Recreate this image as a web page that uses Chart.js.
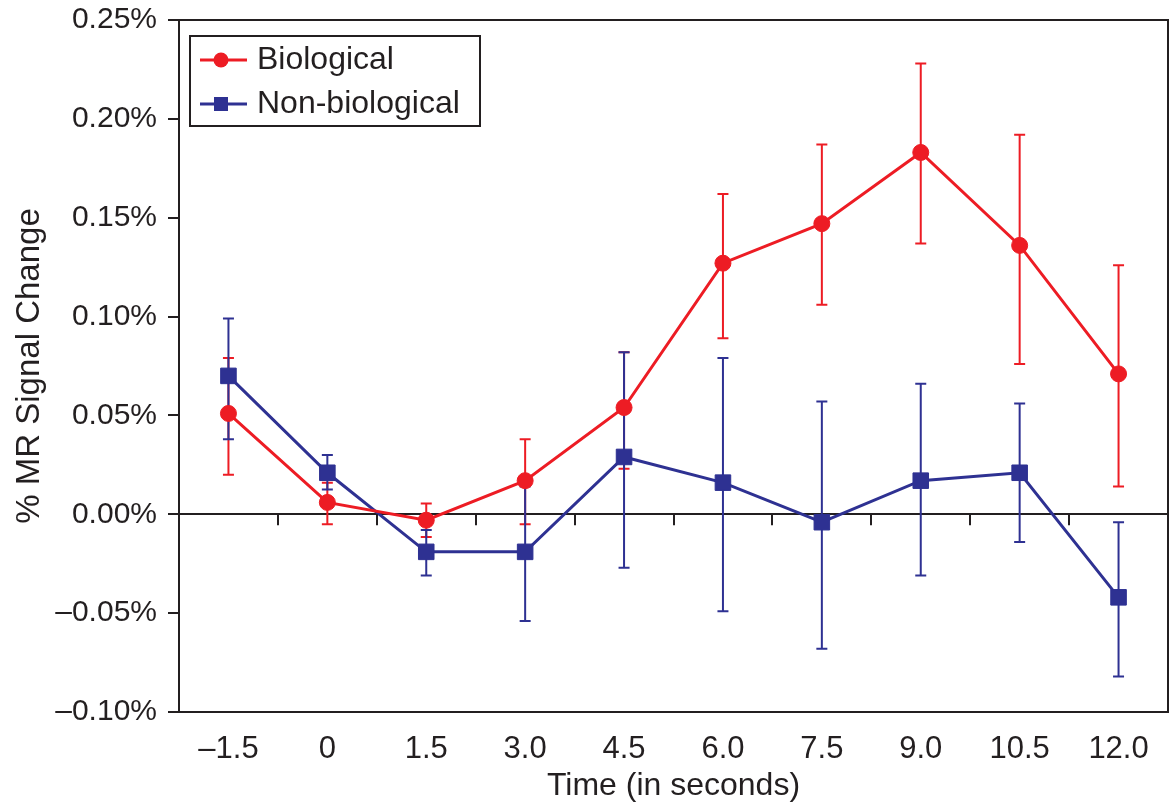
<!DOCTYPE html>
<html>
<head>
<meta charset="utf-8">
<script src="https://cdn.jsdelivr.net/npm/chart.js@4/dist/chart.umd.min.js"></script>
<style>html,body{margin:0;padding:0;background:#fff}canvas{display:block}</style>
</head>
<body>
<canvas id="c" width="1169" height="808"></canvas>
<script>
// ---- data ----
const timeLabels = ['\u20131.5', '0', '1.5', '3.0', '4.5', '6.0', '7.5', '9.0', '10.5', '12.0'];

const bioValues = [0.051, 0.006, -0.003, 0.017, 0.054, 0.127, 0.147, 0.183, 0.136, 0.071];
const bioUpper  = [0.079, 0.016, 0.0055, 0.038, 0.082, 0.162, 0.187, 0.228, 0.192, 0.126];
const bioLower  = [0.020, -0.005, -0.0115, -0.005, 0.023, 0.089, 0.106, 0.137, 0.076, 0.014];

const nonValues = [0.070, 0.021, -0.019, -0.019, 0.029, 0.016, -0.004, 0.017, 0.021, -0.042];
const nonUpper  = [0.099, 0.030, -0.008, 0.014, 0.082, 0.079, 0.057, 0.066, 0.056, -0.004];
const nonLower  = [0.038, 0.0125, -0.031, -0.054, -0.027, -0.049, -0.068, -0.031, -0.014, -0.082];

const seriesNames = ['Biological', 'Non-biological'];
const yMin = -0.10, yMax = 0.25, yStep = 0.05;

// ---- styles ----
const INK = '#231f20';
const RED = '#ed1c24';
const BLUE = '#2e3192';
const FONT = "'Liberation Sans', Arial, Helvetica, sans-serif";

const errorBars = {
  id: 'errorBars',
  beforeDatasetsDraw(chart) {
    const ctx = chart.ctx, xs = chart.scales.x, ys = chart.scales.y;
    chart.data.datasets.forEach((ds, di) => {
      if (!chart.isDatasetVisible(di)) return;
      ctx.save();
      ctx.strokeStyle = ds.borderColor;
      ctx.lineWidth = 2;
      ds.errUpper.forEach((hi, i) => {
        const x = xs.getPixelForValue(i);
        const y1 = ys.getPixelForValue(hi);
        const y2 = ys.getPixelForValue(ds.errLower[i]);
        const cap = 5.5;
        ctx.beginPath();
        ctx.moveTo(x, y1); ctx.lineTo(x, y2);
        ctx.moveTo(x - cap, y1); ctx.lineTo(x + cap, y1);
        ctx.moveTo(x - cap, y2); ctx.lineTo(x + cap, y2);
        ctx.stroke();
      });
      ctx.restore();
    });
  }
};

const frame = {
  id: 'frame',
  afterDraw(chart) {
    const ctx = chart.ctx, a = chart.chartArea, xs = chart.scales.x, ys = chart.scales.y;
    ctx.save();
    ctx.strokeStyle = INK;
    ctx.lineWidth = 2;
    ctx.beginPath();
    ctx.moveTo(a.left, a.top); ctx.lineTo(a.right, a.top); ctx.lineTo(a.right, a.bottom);
    ctx.stroke();
    // tick marks on the zero line between categories
    const y0 = ys.getPixelForValue(0);
    ctx.beginPath();
    for (let i = 0; i < timeLabels.length - 1; i++) {
      const x = Math.round((xs.getPixelForValue(i) + xs.getPixelForValue(i + 1)) / 2);
      ctx.moveTo(x, y0); ctx.lineTo(x, y0 + 11);
    }
    ctx.stroke();

    // legend box
    const bx = 190, by = 36, bw = 290, bh = 90;
    ctx.strokeRect(bx, by, bw, bh);
    const rows = [60, 104];
    chart.data.datasets.forEach((ds, di) => {
      const cy = rows[di];
      ctx.strokeStyle = ds.borderColor;
      ctx.fillStyle = ds.borderColor;
      ctx.lineWidth = 3;
      ctx.beginPath();
      ctx.moveTo(200, cy); ctx.lineTo(247, cy);
      ctx.stroke();
      if (ds.pointStyle === 'rect') {
        ctx.fillRect(221 - 7, cy - 7, 14, 14);
      } else {
        ctx.beginPath();
        ctx.arc(221, cy, 7.5, 0, Math.PI * 2);
        ctx.fill();
      }
      ctx.fillStyle = INK;
      ctx.font = "32px " + FONT;
      ctx.textAlign = 'left';
      ctx.textBaseline = 'alphabetic';
      ctx.fillText(ds.label, 257, cy + 9);
    });
    ctx.restore();
  }
};

const fmtPct = v => {
  if (Math.abs(v) < 1e-9) return '0.00%';
  const s = Math.abs(v).toFixed(2) + '%';
  return v < 0 ? '\u2013' + s : s;
};

const noPad = s => { s.paddingLeft = 0; s.paddingRight = 0; s.paddingTop = 0; s.paddingBottom = 0; };

new Chart(document.getElementById('c'), {
  type: 'line',
  data: {
    labels: timeLabels,
    datasets: [
      {
        label: seriesNames[0],
        data: bioValues,
        errUpper: bioUpper,
        errLower: bioLower,
        borderColor: RED,
        backgroundColor: RED,
        borderWidth: 3,
        pointStyle: 'circle',
        pointRadius: 8,
        pointBorderWidth: 1,
        pointBackgroundColor: RED,
        tension: 0,
        order: 1
      },
      {
        label: seriesNames[1],
        data: nonValues,
        errUpper: nonUpper,
        errLower: nonLower,
        borderColor: BLUE,
        backgroundColor: BLUE,
        borderWidth: 3,
        pointStyle: 'rect',
        pointRadius: 11,
        pointBorderWidth: 1,
        pointBackgroundColor: BLUE,
        tension: 0,
        order: 2
      }
    ]
  },
  options: {
    responsive: false,
    animation: false,
    devicePixelRatio: 1,
    layout: { autoPadding: false, padding: { left: 0, right: 1, top: 20, bottom: 0 } },
    plugins: { legend: { display: false }, tooltip: { enabled: false } },
    scales: {
      x: {
        type: 'category',
        offset: true,
        grid: { display: false, drawTicks: false },
        border: { display: true, color: INK, width: 2 },
        ticks: { color: INK, font: { family: FONT, size: 31 }, padding: 19, maxRotation: 0, autoSkip: false },
        title: { display: true, text: 'Time (in seconds)', color: INK, font: { family: FONT, size: 32, lineHeight: 1 }, padding: { top: 0, bottom: 6 } },
        afterFit(s) { s.height = 96; noPad(s); }
      },
      y: {
        min: yMin,
        max: yMax,
        ticks: { stepSize: yStep, callback: v => fmtPct(v), color: INK, font: { family: FONT, size: 30 }, padding: 11 },
        grid: {
          color: c => (c.tick && Math.abs(c.tick.value) < 1e-9) ? INK : 'rgba(0,0,0,0)',
          tickColor: INK,
          lineWidth: 2,
          tickLength: 11,
          drawTicks: true
        },
        border: { display: true, color: INK, width: 2 },
        title: { display: true, text: '% MR Signal Change', color: INK, font: { family: FONT, size: 33, lineHeight: 1 }, padding: { top: 13, bottom: 0 } },
        afterFit(s) { s.width = 179; noPad(s); }
      }
    }
  },
  plugins: [errorBars, frame]
});
</script>
</body>
</html>
